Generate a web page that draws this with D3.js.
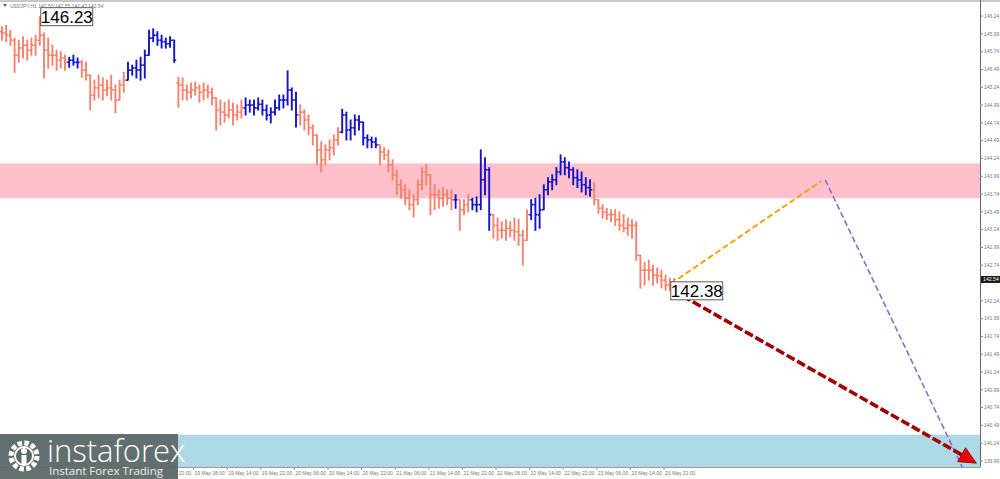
<!DOCTYPE html>
<html><head><meta charset="utf-8">
<script src="https://cdn.jsdelivr.net/npm/d3@7"></script>
<style>body{margin:0;background:#fff;} svg{display:block;font-family:"Liberation Sans",Arial,sans-serif;}</style>
</head><body><svg id="c" width="1000" height="479"></svg>
<script>
// ---------- DATA ----------
const symbol = "USDJPY,H1";
const lastQuote = ["142.50", "142.55", "142.47", "142.54"];
const firstBarTime = "2025-05-15 06:00";
const firstOpen = 146.02;
const gapOpens = {42: 145.30};
const highs = [
146.09,146.11,146.04,145.93,145.90,145.95,145.90,145.93,145.97,146.23,
146.00,145.93,145.83,145.76,145.74,145.69,145.66,145.69,145.65,145.62,
145.59,145.41,145.34,145.41,145.37,145.34,145.41,145.27,145.34,145.45,
145.59,145.55,145.62,145.66,145.76,146.04,146.06,146.02,145.97,145.93,
145.95,145.90,145.38,145.37,145.27,145.30,145.31,145.27,145.30,145.27,
145.23,145.09,145.06,145.03,145.06,145.02,144.99,145.06,145.09,145.06,
145.06,145.09,145.06,144.99,144.95,145.06,145.13,145.13,145.47,145.23,
145.17,144.99,144.92,144.85,144.71,144.57,144.47,144.43,144.50,144.57,
144.67,144.93,144.89,144.78,144.85,144.84,144.75,144.57,144.54,144.53,
144.43,144.39,144.36,144.22,144.08,143.94,143.87,143.80,143.73,143.94,
144.11,144.15,144.01,143.87,143.80,143.83,143.80,143.80,143.73,143.66,
143.66,143.73,143.68,143.70,144.36,144.25,144.11,143.45,143.40,143.35,
143.38,143.35,143.40,143.38,143.23,143.52,143.66,143.68,143.73,143.87,
143.97,144.01,144.11,144.29,144.25,144.19,144.11,144.08,144.05,143.97,
143.94,143.90,143.66,143.59,143.54,143.52,143.52,143.49,143.45,143.40,
143.38,143.35,142.88,142.78,142.81,142.74,142.70,142.67,142.60,142.56,
142.55];
const lows = [
145.90,145.88,145.83,145.45,145.59,145.65,145.62,145.69,145.69,145.83,
145.37,145.51,145.55,145.48,145.51,145.48,145.52,145.55,145.51,145.38,
145.34,144.92,145.06,145.09,145.06,145.12,145.06,144.88,145.06,145.17,
145.34,145.41,145.37,145.34,145.37,145.69,145.88,145.83,145.79,145.79,
145.80,145.59,144.96,145.06,145.06,145.09,145.13,145.03,145.06,145.09,
144.99,144.64,144.71,144.75,144.81,144.71,144.78,144.81,144.85,144.89,
144.85,144.92,144.85,144.78,144.74,144.85,144.92,144.95,144.99,144.92,
144.68,144.71,144.64,144.57,144.43,144.15,144.05,144.15,144.22,144.29,
144.43,144.60,144.50,144.50,144.57,144.64,144.43,144.39,144.39,144.39,
144.15,144.22,144.05,143.94,143.73,143.68,143.59,143.52,143.42,143.59,
143.80,143.87,143.45,143.52,143.54,143.57,143.59,143.52,143.54,143.23,
143.45,143.49,143.52,143.49,143.52,143.73,143.23,143.12,143.09,143.12,
143.09,143.14,143.09,143.02,142.74,143.09,143.38,143.23,143.26,143.52,
143.73,143.80,143.87,144.01,144.01,143.97,143.87,143.83,143.77,143.73,
143.71,143.59,143.47,143.40,143.38,143.35,143.30,143.23,143.21,143.16,
143.12,142.81,142.42,142.46,142.53,142.46,142.49,142.42,142.39,142.38,
142.47];
const closes = [
146.00,145.97,145.90,145.69,145.79,145.83,145.76,145.83,145.90,145.97,
145.76,145.69,145.69,145.62,145.65,145.59,145.62,145.59,145.59,145.48,
145.41,145.13,145.23,145.27,145.20,145.23,145.20,145.06,145.27,145.34,
145.48,145.51,145.48,145.55,145.69,145.93,145.97,145.90,145.88,145.85,
145.90,145.62,145.27,145.20,145.17,145.20,145.23,145.17,145.20,145.17,
145.09,144.92,144.89,144.85,144.92,144.85,144.89,144.95,144.99,144.99,
144.95,145.00,144.92,144.85,144.89,144.95,145.06,145.06,145.20,145.06,
144.85,144.89,144.78,144.67,144.57,144.36,144.22,144.36,144.39,144.50,
144.61,144.85,144.64,144.67,144.78,144.75,144.53,144.50,144.47,144.43,
144.33,144.29,144.15,144.01,143.87,143.80,143.68,143.59,143.66,143.87,
144.05,144.01,143.73,143.73,143.68,143.73,143.68,143.66,143.66,143.52,
143.59,143.66,143.59,143.59,143.94,144.08,143.45,143.30,143.23,143.23,
143.26,143.23,143.21,143.16,143.09,143.45,143.59,143.45,143.52,143.80,
143.91,143.94,144.05,144.19,144.11,144.08,143.97,143.94,143.87,143.83,
143.80,143.66,143.54,143.49,143.45,143.45,143.38,143.30,143.26,143.30,
143.30,142.88,142.67,142.67,142.67,142.60,142.59,142.53,142.46,142.50,
142.54];
// wave segments drawn in blue (bar index ranges)
const blueWaves = [[16,18],[30,41],[58,70],[81,89],[108,108],[112,116],[126,140]];
// zones (price ranges)
const resistanceZone = [143.68, 144.17];
const supportZone = [139.80, 140.36];
// forecast paths: [bar index, price]
const orangePath = [[161, 142.55], [195, 143.92]];
const purplePath = [[196, 143.94], [229, 139.86]];
const redPath = [[162, 142.31], [232, 139.96]];
// extreme labels
const highMark = {bar: 9, price: 146.23, text: "146.23"};
const lowMark = {bar: 159, price: 142.38, text: "142.38"};
// axis ticks
const priceTicks = ["146.24","145.99","145.74","145.49","145.24","144.99","144.74","144.49","144.24","143.99",
  "143.74","143.49","143.24","142.99","142.74","142.49","142.24","141.99","141.74","141.49",
  "141.24","140.99","140.74","140.49","140.24","139.99"];
const timeTicks = ["16 May 22:00","19 May 06:00","19 May 14:00","19 May 22:00","20 May 06:00","20 May 14:00",
  "20 May 22:00","21 May 06:00","21 May 14:00","21 May 22:00","22 May 06:00","22 May 14:00","22 May 22:00",
  "23 May 06:00","23 May 14:00","23 May 22:00"];
const currentPrice = "142.54";

// ---------- CHART ----------
const svg = d3.select("#c");
const W = 1000, H = 479;
const plotRight = 980, plotTop = 2, plotBottom = 467;
const xs = d3.scaleLinear().domain([0, 233]).range([2, 980.6]);
const ys = d3.scaleLinear().domain([139.906, 146.437]).range([plotBottom, plotTop]);

// bar times (trading hours, weekends skipped)
const parse = d3.timeParse("%Y-%m-%d %H:%M");
const fmt = d3.timeFormat("%d %b %H:%M");
const barTimes = [];
let t = parse(firstBarTime);
while (barTimes.length < highs.length) {
  const d = t.getDay();
  if (d !== 0 && d !== 6) barTimes.push(fmt(t));
  t = d3.timeHour.offset(t, 1);
}

svg.append("rect").attr("width", W).attr("height", H).attr("fill", "#fff");
svg.append("defs").append("clipPath").attr("id", "plot")
  .append("rect").attr("x", 0).attr("y", plotTop).attr("width", plotRight).attr("height", plotBottom - plotTop);

const plot = svg.append("g").attr("clip-path", "url(#plot)");

// zones
plot.append("rect").attr("x", 0).attr("width", plotRight)
  .attr("y", ys(resistanceZone[1])).attr("height", ys(resistanceZone[0]) - ys(resistanceZone[1]))
  .attr("fill", "#ffc0cb");
plot.append("rect").attr("x", 0).attr("width", plotRight)
  .attr("y", ys(supportZone[1])).attr("height", ys(supportZone[0]) - ys(supportZone[1]))
  .attr("fill", "#add8e6");

// bars
const isBlue = i => blueWaves.some(([a, b]) => i >= a && i <= b);
const opens = closes.map((c, i) => gapOpens[i] !== undefined ? gapOpens[i] : (i === 0 ? firstOpen : closes[i - 1]));
const bars = plot.append("g");
highs.forEach((h, i) => {
  const x = xs(i);
  const col = isBlue(i) ? "#1414c8" : "#f4826c";
  const g = bars.append("g").attr("stroke", col).attr("stroke-width", 1.9);
  g.append("line").attr("x1", x).attr("x2", x).attr("y1", ys(h) - 0.5).attr("y2", ys(lows[i]) + 0.5);
  g.append("line").attr("x1", x - 2).attr("x2", x).attr("y1", ys(opens[i])).attr("y2", ys(opens[i])).attr("stroke-width", 1.6);
  g.append("line").attr("x1", x).attr("x2", x + 2).attr("y1", ys(closes[i])).attr("y2", ys(closes[i])).attr("stroke-width", 1.6);
});

// forecast lines
const line = d3.line().x(d => xs(d[0])).y(d => ys(d[1]));
plot.append("path").attr("d", line(orangePath)).attr("fill", "none")
  .attr("stroke", "#f5a00f").attr("stroke-width", 2).attr("stroke-dasharray", "6,3");
plot.append("path").attr("d", line(purplePath)).attr("fill", "none")
  .attr("stroke", "#8a6ad8").attr("stroke-width", 1.6).attr("stroke-dasharray", "6,3");

// red arrow
const p0 = [xs(redPath[0][0]), ys(redPath[0][1])];
const p1 = [xs(redPath[1][0]), ys(redPath[1][1])];
const dx = p1[0] - p0[0], dy = p1[1] - p0[1], len = Math.hypot(dx, dy);
const ux = dx / len, uy = dy / len;
const headL = 17, headW = 8;
const pe = [p1[0] - ux * headL * 0.8, p1[1] - uy * headL * 0.8];
plot.append("line").attr("x1", p0[0]).attr("y1", p0[1]).attr("x2", pe[0]).attr("y2", pe[1])
  .attr("stroke", "#a30000").attr("stroke-width", 3.6).attr("stroke-dasharray", "9,3");
const base = [p1[0] - ux * headL, p1[1] - uy * headL];
plot.append("path").attr("d", `M${p1[0]},${p1[1]}L${base[0] - uy * headW},${base[1] + ux * headW}L${base[0] + uy * headW},${base[1] - ux * headW}Z`)
  .attr("fill", "#e8000b").attr("stroke", "#8a0000").attr("stroke-width", 0.8);

// extreme labels
function markLabel(m) {
  const x = xs(m.bar) + 1, y = ys(m.price);
  const g = svg.append("g");
  g.append("rect").attr("x", x).attr("y", y - 9).attr("width", 52).attr("height", 18)
    .attr("fill", "#fff").attr("stroke", "#333").attr("stroke-width", 0.8);
  g.append("text").attr("x", x + 26).attr("y", y + 6).attr("text-anchor", "middle")
    .attr("font-size", 17).attr("fill", "#000").text(m.text);
}
markLabel(highMark);
markLabel(lowMark);

// frame
svg.append("line").attr("x1", 0).attr("x2", W).attr("y1", 1).attr("y2", 1).attr("stroke", "#c8c8c8").attr("stroke-width", 2);
svg.append("line").attr("x1", plotRight + 0.5).attr("x2", plotRight + 0.5).attr("y1", 0).attr("y2", plotBottom)
  .attr("stroke", "#666").attr("stroke-width", 1);
svg.append("line").attr("x1", 0).attr("x2", plotRight).attr("y1", plotBottom + 0.5).attr("y2", plotBottom + 0.5)
  .attr("stroke", "#999").attr("stroke-width", 1);

// price axis
const pa = svg.append("g");
const cy = ys(+currentPrice);
priceTicks.forEach(p => {
  const y = ys(+p);
  pa.append("line").attr("x1", plotRight).attr("x2", plotRight + 3).attr("y1", y).attr("y2", y).attr("stroke", "#888");
  if (Math.abs(y - cy) < 7) return; // hidden under the current price marker
  pa.append("text").attr("x", 984).attr("y", y + 1.8).attr("font-size", 5).attr("fill", "#777").text(p);
});
pa.append("rect").attr("x", plotRight + 1).attr("y", cy - 3.5).attr("width", 19).attr("height", 7).attr("fill", "#1a1a1a");
pa.append("text").attr("x", 983).attr("y", cy + 1.9).attr("font-size", 5.2).attr("fill", "#fff").text(currentPrice);

// time axis
const ta = svg.append("g");
timeTicks.forEach(lbl => {
  const i = barTimes.indexOf(lbl);
  if (i < 0) return;
  const x = xs(i);
  ta.append("line").attr("x1", x - 10).attr("x2", x - 10).attr("y1", plotBottom).attr("y2", plotBottom + 3).attr("stroke", "#999");
  ta.append("text").attr("x", x - 9).attr("y", 475).attr("font-size", 5).attr("fill", "#777").text(lbl);
});

// title
svg.append("path").attr("d", "M3,4L7,4L5,7Z").attr("fill", "#666");
svg.append("text").attr("x", 10).attr("y", 7.5).attr("font-size", 5).attr("fill", "#777")
  .text(symbol + "  " + lastQuote.join(" "));

// logo
const logo = svg.append("g");
logo.append("rect").attr("x", 0).attr("y", 434).attr("width", 178).attr("height", 45).attr("fill", "#5e6868").attr("opacity", 0.95);
logo.append("circle").attr("cx", 24).attr("cy", 456).attr("r", 13).attr("fill", "none")
  .attr("stroke", "#fff").attr("stroke-width", 5).attr("stroke-dasharray", "4.5,2.3");
logo.append("circle").attr("cx", 24).attr("cy", 456).attr("r", 9).attr("fill", "#5e6868").attr("stroke", "#fff").attr("stroke-width", 2);
logo.append("circle").attr("cx", 24).attr("cy", 451).attr("r", 3).attr("fill", "#fff");
logo.append("rect").attr("x", 21.5).attr("y", 455).attr("width", 5).attr("height", 10).attr("fill", "#fff");
logo.append("text").attr("x", 47).attr("y", 462).attr("font-size", 31).attr("fill", "#fff")
  .attr("font-family", "'Open Sans', 'DejaVu Sans', sans-serif").attr("font-weight", 300).text("instaforex");
logo.append("text").attr("x", 49).attr("y", 475).attr("font-size", 11.5).attr("fill", "#eee")
  .attr("font-family", "'Open Sans', 'DejaVu Sans', sans-serif").text("Instant Forex Trading");
</script></body></html>
